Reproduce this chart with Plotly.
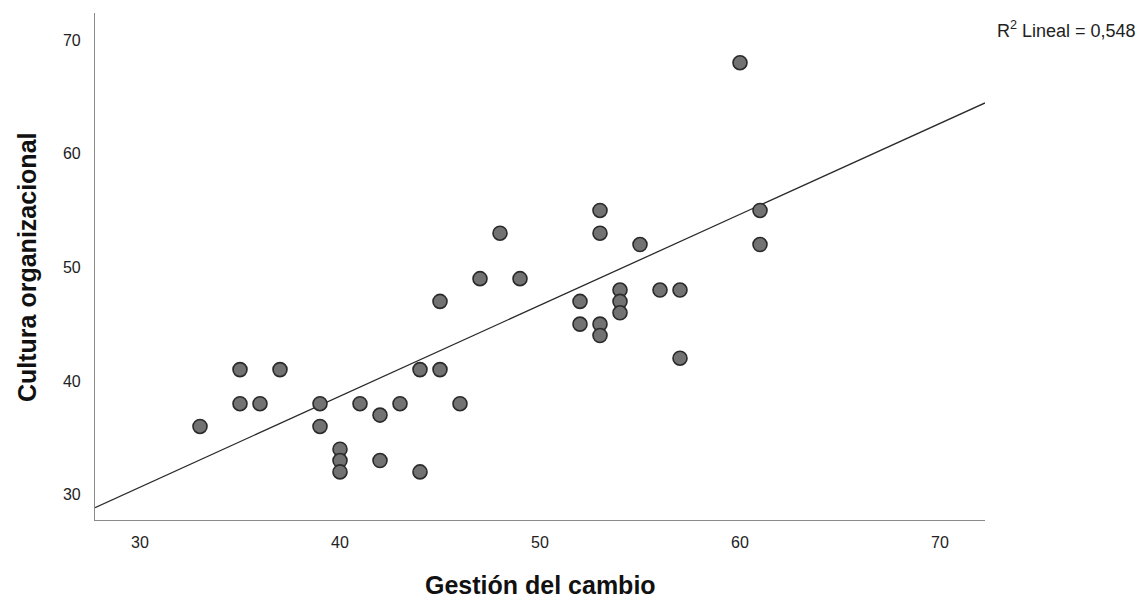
import plotly.graph_objects as go

# Data
gestion = [33, 35, 35, 36, 37, 39, 39, 40, 40, 40, 41, 42, 42, 43, 44, 44, 45, 45, 46,
           47, 48, 49, 52, 52, 53, 53, 53, 53, 54, 54, 54, 55, 56, 57, 57, 60, 61, 61]
cultura = [36, 41, 38, 38, 41, 38, 36, 34, 33, 32, 38, 37, 33, 38, 41, 32, 47, 41, 38,
           49, 53, 49, 47, 45, 55, 53, 45, 44, 48, 47, 46, 52, 48, 48, 42, 68, 55, 52]

# Fit line as drawn in the reference
fit_intercept = 6.66
fit_slope = 0.80
r2_text = "R<sup>2</sup> Lineal = 0,548"

x_range = [27.75, 72.25]
y_range = [27.77, 72.37]
tick_vals = [30, 40, 50, 60, 70]

FONT = "Arial, Liberation Sans, sans-serif"

fig = go.Figure()

fig.add_trace(go.Scatter(
    x=x_range,
    y=[fit_intercept + fit_slope * v for v in x_range],
    mode="lines",
    line=dict(color="#2b2b2b", width=1.3),
    hoverinfo="skip",
    showlegend=False,
))

fig.add_trace(go.Scatter(
    x=gestion, y=cultura, mode="markers",
    marker=dict(size=14, color="#727272", line=dict(color="#2a2a2a", width=1.6)),
    showlegend=False,
))

axis_common = dict(
    showgrid=False, zeroline=False, showline=True, linecolor="#8a8a8a", linewidth=1.2,
    ticks="", tickfont=dict(family=FONT, size=16, color="#222"),
    tickvals=tick_vals,
)

fig.update_xaxes(range=x_range, ticklabelstandoff=8, **axis_common)
fig.update_yaxes(range=y_range, ticklabelstandoff=10, **axis_common)

fig.add_annotation(
    text=r2_text, xref="paper", yref="paper", x=(1138 - 95) / 890, y=(520 - 29) / 507,
    xanchor="right", yanchor="middle", showarrow=False,
    font=dict(family=FONT, size=18, color="#222"),
)
fig.add_annotation(
    text="Gestión del cambio", xref="paper", yref="paper", x=(540 - 95) / 890,
    y=(520 - 585) / 507, xanchor="center", yanchor="middle", showarrow=False,
    font=dict(family=FONT, size=25, color="#111", weight="bold"),
)
fig.add_annotation(
    text="Cultura organizacional", xref="paper", yref="paper", x=(27 - 95) / 890,
    y=(520 - 268) / 507, xanchor="center", yanchor="middle", showarrow=False,
    textangle=-90,
    font=dict(family=FONT, size=25, color="#111", weight="bold"),
)

fig.update_layout(
    width=1143, height=598,
    margin=dict(l=95, r=158, t=13, b=78),
    plot_bgcolor="white", paper_bgcolor="white",
)

fig.write_html("out.html")
